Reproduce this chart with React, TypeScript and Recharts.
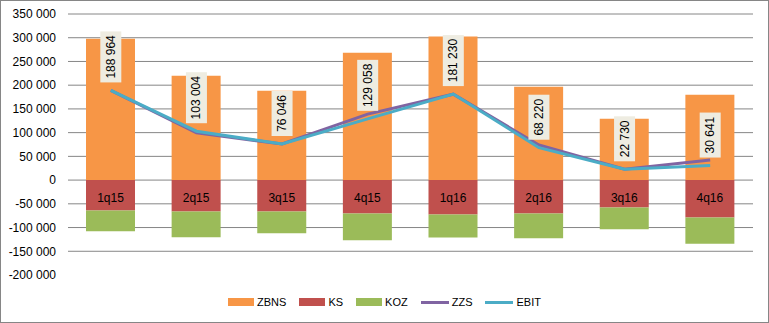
import React from 'react';
import {
  Bar,
  CartesianGrid,
  ComposedChart,
  LabelList,
  Line,
  XAxis,
  YAxis,
} from 'recharts';

const categories = ['1q15', '2q15', '3q15', '4q15', '1q16', '2q16', '3q16', '4q16'];
const zbns = [298000, 220000, 188500, 268500, 302800, 196900, 129500, 180000];
const ks = [-64200, -66300, -66300, -70500, -72700, -70500, -57900, -79000];
const koz = [-43600, -54100, -45700, -56300, -48400, -52000, -45700, -55400];
const zzs = [189000, 99500, 76000, 139000, 181000, 74000, 23000, 42500];
const ebit = [188964, 103004, 76046, 129058, 181230, 68220, 22730, 30641];

const yTicks = [-200000, -150000, -100000, -50000, 0, 50000, 100000, 150000, 200000, 250000, 300000, 350000];
const gridValues = yTicks.filter((v) => v > -200000);

const data = categories.map((name, i) => ({
  name,
  ZBNS: zbns[i],
  KS: ks[i],
  KOZ: koz[i],
  ZZS: zzs[i],
  EBIT: ebit[i],
}));

const COLORS = {
  ZBNS: '#F79646',
  KS: '#C0504D',
  KOZ: '#9BBB59',
  ZZS: '#8064A2',
  EBIT: '#4BACC6',
};

const FONT = '"Liberation Sans", Arial, sans-serif';

const fmt = (v: number) => {
  const s = String(Math.abs(v)).replace(/\B(?=(\d{3})+(?!\d))/g, ' ');
  return v < 0 ? '-' + s : s;
};

const CategoryLabel = (props: any) => {
  const { x, y, width, height, index } = props;
  const top = Math.min(y, y + height);
  return (
    <text
      x={x + width / 2}
      y={top + 18}
      textAnchor="middle"
      dominantBaseline="central"
      fontSize={12}
      fontFamily={FONT}
      fill="#000"
    >
      {categories[index]}
    </text>
  );
};

const ValueLabel = (props: any) => {
  const { x, y, value } = props;
  const text = fmt(value);
  const h = text.length * 6 + 9;
  const w = 21;
  const bottom = y - 8;
  const cy = bottom - h / 2;
  return (
    <g>
      <rect x={x - w / 2} y={bottom - h} width={w} height={h} fill="#EEECE1" />
      <text
        x={x}
        y={cy}
        transform={`rotate(-90 ${x} ${cy})`}
        textAnchor="middle"
        dominantBaseline="central"
        fontSize={12}
        fontFamily={FONT}
        fill="#000"
      >
        {text}
      </text>
    </g>
  );
};

const legendItems = [
  { key: 'ZBNS', type: 'rect' },
  { key: 'KS', type: 'rect' },
  { key: 'KOZ', type: 'rect' },
  { key: 'ZZS', type: 'line' },
  { key: 'EBIT', type: 'line' },
];

export default function App() {
  return (
    <div
      style={{
        position: 'absolute',
        left: 0,
        top: 0,
        width: 769,
        height: 323,
        background: '#fff',
        outline: '1px solid #868686',
        outlineOffset: -1,
      }}
    >
      <ComposedChart
        width={769}
        height={323}
        data={data}
        stackOffset="sign"
        margin={{ top: 14, right: 16, bottom: 48, left: 0 }}
        barSize={49}
      >
        <CartesianGrid
          vertical={false}
          stroke="#868686"
          horizontalValues={gridValues}
        />
        <XAxis dataKey="name" hide />
        <YAxis
          width={68}
          domain={[-200000, 350000]}
          ticks={yTicks}
          interval={0}
          tickFormatter={fmt}
          axisLine={false}
          tickLine={false}
          tickMargin={6}
          tick={{ fontSize: 12, fontFamily: FONT, fill: '#000' }}
        />
        <Bar dataKey="ZBNS" stackId="a" fill={COLORS.ZBNS} isAnimationActive={false} />
        <Bar dataKey="KS" stackId="a" fill={COLORS.KS} isAnimationActive={false}>
          <LabelList content={CategoryLabel} />
        </Bar>
        <Bar dataKey="KOZ" stackId="a" fill={COLORS.KOZ} isAnimationActive={false} />
        <Line
          type="linear"
          dataKey="ZZS"
          stroke={COLORS.ZZS}
          strokeWidth={3}
          dot={false}
          isAnimationActive={false}
        />
        <Line
          type="linear"
          dataKey="EBIT"
          stroke={COLORS.EBIT}
          strokeWidth={3}
          dot={false}
          isAnimationActive={false}
        >
          <LabelList dataKey="EBIT" content={ValueLabel} />
        </Line>
      </ComposedChart>
      <div
        style={{
          position: 'absolute',
          left: 0,
          top: 295,
          width: 769,
          display: 'flex',
          justifyContent: 'center',
          alignItems: 'center',
          fontFamily: FONT,
          fontSize: 11,
          lineHeight: '14px',
          color: '#000',
        }}
      >
        {legendItems.map((it, i) => (
          <div
            key={it.key}
            style={{
              display: 'flex',
              alignItems: 'center',
              marginRight: i === legendItems.length - 1 ? 0 : 13,
            }}
          >
            {it.type === 'rect' ? (
              <div style={{ width: 26, height: 8, background: (COLORS as any)[it.key] }} />
            ) : (
              <div style={{ width: 28, height: 3, background: (COLORS as any)[it.key] }} />
            )}
            <span style={{ marginLeft: 3 }}>{it.key}</span>
          </div>
        ))}
      </div>
    </div>
  );
}
